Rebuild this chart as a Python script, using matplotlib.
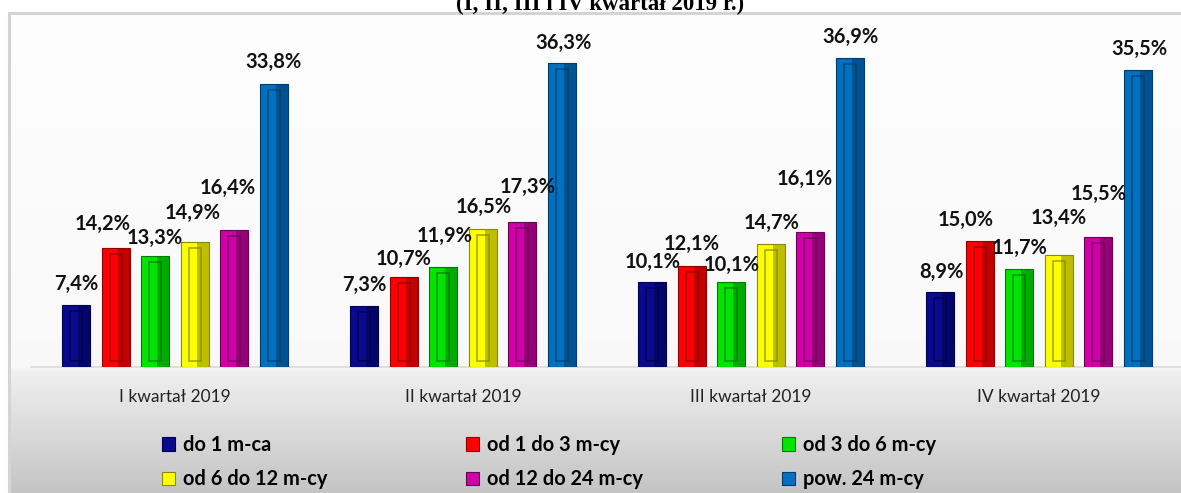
import numpy as np
import matplotlib
matplotlib.use('Agg')
import matplotlib.pyplot as plt
from matplotlib.patches import Rectangle

# data
kwartaly = ['I kwartał 2019', 'II kwartał 2019', 'III kwartał 2019', 'IV kwartał 2019']
serie = ['do 1 m-ca', 'od 1 do 3 m-cy', 'od 3 do 6 m-cy',
         'od 6 do 12 m-cy', 'od 12 do 24 m-cy', 'pow. 24 m-cy']
do_1 = [7.4, 7.3, 10.1, 8.9]
od_1_do_3 = [14.2, 10.7, 12.1, 15.0]
od_3_do_6 = [13.3, 11.9, 10.1, 11.7]
od_6_do_12 = [14.9, 16.5, 14.7, 13.4]
od_12_do_24 = [16.4, 17.3, 16.1, 15.5]
pow_24 = [33.8, 36.3, 36.9, 35.5]
wartosci = [do_1, od_1_do_3, od_3_do_6, od_6_do_12, od_12_do_24, pow_24]

kolory = ['#0a0a8c', '#ff0000', '#00e600', '#ffff00', '#d000a8', '#0070c0']
ciemne = ['#000050', '#900000', '#007a00', '#8a8a00', '#6a0055', '#003a6a']

# label nudges in px (dx, gap above bar top), one row per series
etyk_dx = [[0, 0, 0, 1], [-13, 0, 0, -14], [0, 1, 0, 0],
           [-2, 1, 1, 0], [-6, 5, -5, 0], [0, 2, 1, 2]]
etyk_gap = [[21, 21, 20, 20], [24, 18, 22, 21], [18, 31, 17, 21],
            [29, 22, 21, 37], [42, 35, 53, 43], [22, 20, 21, 21]]

W, H = 1181, 493
fig = plt.figure(figsize=(W / 100, H / 100), dpi=100)
fig.patch.set_facecolor('white')

# chart background gradient + frame
bg = fig.add_axes([10 / W, 0, 1 - 10 / W, (H - 13) / H], zorder=-5)
base_frac = (367 - 13) / (H - 13)
t = np.linspace(0, 1, 300)
shade = np.interp(t, [0, base_frac, base_frac + 0.01, 1], [0.995, 0.975, 0.94, 0.77])
bg.imshow(np.dstack([shade] * 3).reshape(300, 1, 3), aspect='auto',
          extent=[0, 1, 0, 1], origin='upper')
bg.set_xlim(0, 1)
bg.set_ylim(0, 1)
bg.axis('off')
fig.patches.append(Rectangle((9 / W, -0.01), 1.0, (H - 13) / H + 0.01,
                             transform=fig.transFigure, fill=False,
                             edgecolor='#d4d4d4', lw=2.2, zorder=-4))

fig.text(600 / W, (H - 10) / H, '(I, II, III i IV kwartał 2019 r.)',
         ha='center', va='baseline', fontsize=16.5, fontweight='bold',
         family='Liberation Serif')

ax = fig.add_axes([31 / W, (H - 367) / H, 1152 / W, (367 - 38) / H])
ax.set_facecolor('none')
ax.set_xlim(-0.5, 3.5)
ax.set_ylim(0, 329 / 8.375)

x = np.arange(len(kwartaly))
krok = 0.137
szer = 0.097
px_x = 4 / 288.0
px_y = 1 / 8.375

for i, vals in enumerate(wartosci):
    pos = x + (i - 2.5) * krok
    vals = np.array(vals)
    ax.bar(pos, vals, szer, color=kolory[i], edgecolor=ciemne[i], lw=0.8,
           label=serie[i], zorder=3)
    # right-side shadow strip
    ax.bar(pos + szer / 2 - 1.5 * px_x, vals, 3 * px_x, color=ciemne[i],
           alpha=0.55, lw=0, zorder=4)
    # inner bevel frame
    ax.bar(pos, vals - 12 * px_y, szer - 10 * px_x, bottom=6 * px_y,
           color='none', edgecolor=ciemne[i], lw=1.1, alpha=0.8, zorder=5)
    for j, v in enumerate(vals):
        ax.annotate(f'{v:.1f}%'.replace('.', ','), (pos[j], v),
                    xytext=(etyk_dx[i][j] * 0.72, etyk_gap[i][j] * 0.72),
                    textcoords='offset points', ha='center', va='center',
                    fontsize=14.5, fontweight='bold', family='Lato',
                    color='#111111', zorder=6)

for s in ['top', 'right', 'left']:
    ax.spines[s].set_visible(False)
ax.spines['bottom'].set_color('#d9d9d9')
ax.spines['bottom'].set_linewidth(1.2)
ax.set_yticks([])
ax.set_xticks(x)
ax.set_xticklabels(kwartaly, fontsize=12.5, family='Lato', color='#222222')
ax.tick_params(axis='x', length=0, pad=16)

h, l = ax.get_legend_handles_labels()
kolejnosc = [0, 3, 1, 4, 2, 5]
leg = fig.legend([h[k] for k in kolejnosc], [l[k] for k in kolejnosc],
                 ncol=3, loc='upper left', bbox_to_anchor=(154 / W, (H - 427) / H),
                 frameon=False, prop={'family': 'Lato', 'weight': 'bold', 'size': 14.4},
                 handlelength=0.65, handleheight=0.65, handletextpad=0.4,
                 columnspacing=6.95, labelspacing=0.72, borderaxespad=0)

fig.savefig('out.png', dpi=100)
